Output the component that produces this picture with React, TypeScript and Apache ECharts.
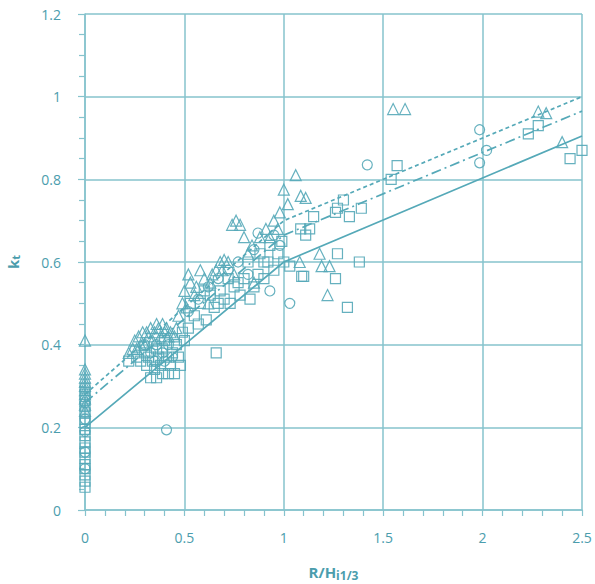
import React, { useEffect, useRef } from "react";
import * as echarts from "echarts";

// Tick labels
const xTicks = [0, 0.5, 1, 1.5, 2, 2.5];
const yTicks = [0, 0.2, 0.4, 0.6, 0.8, 1, 1.2];

// Triangles [R/Hi, kt]
const triangles: number[][] = [
  [0, 0.41], [0, 0.34], [0, 0.33], [0, 0.32], [0, 0.31], [0, 0.3], [0, 0.29], [0, 0.28], [0, 0.27],
  [0, 0.255], [0, 0.24],
  [0.22, 0.38], [0.25, 0.41], [0.27, 0.42], [0.29, 0.43], [0.31, 0.43], [0.33, 0.44], [0.35, 0.43],
  [0.37, 0.44], [0.39, 0.45], [0.41, 0.44], [0.43, 0.43], [0.3, 0.4], [0.34, 0.41], [0.38, 0.42],
  [0.26, 0.39], [0.45, 0.42], [0.28, 0.4], [0.32, 0.42], [0.36, 0.45], [0.4, 0.43], [0.42, 0.42],
  [0.24, 0.39], [0.46, 0.44],
  [0.47, 0.47], [0.49, 0.5], [0.5, 0.53], [0.52, 0.57], [0.53, 0.55], [0.56, 0.54], [0.58, 0.58],
  [0.6, 0.56], [0.63, 0.55], [0.66, 0.58], [0.68, 0.6], [0.7, 0.605], [0.72, 0.6], [0.74, 0.69],
  [0.76, 0.7], [0.78, 0.69], [0.8, 0.66], [0.84, 0.64], [0.88, 0.66], [0.91, 0.68], [0.95, 0.7],
  [0.98, 0.72], [1.0, 0.775], [1.06, 0.81], [1.085, 0.76], [1.11, 0.755], [1.02, 0.74], [0.85, 0.55],
  [0.75, 0.57], [0.62, 0.5], [0.51, 0.49], [0.55, 0.52], [0.64, 0.57], [0.69, 0.58], [0.82, 0.62],
  [0.93, 0.66], [0.97, 0.68],
  [1.18, 0.62], [1.19, 0.59], [1.23, 0.59], [1.22, 0.52], [1.08, 0.6], [1.55, 0.97], [1.61, 0.97],
  [2.28, 0.964], [2.32, 0.96], [2.4, 0.89],
];

// Squares [R/Hi, kt]
const squares: number[][] = [
  [0, 0.055], [0, 0.07], [0, 0.085], [0, 0.1], [0, 0.11], [0, 0.125], [0, 0.14], [0, 0.15],
  [0, 0.165], [0, 0.18], [0, 0.195], [0, 0.21], [0, 0.22], [0, 0.235], [0, 0.25], [0, 0.265],
  [0, 0.28], [0, 0.295],
  [0.22, 0.36], [0.26, 0.37], [0.3, 0.38], [0.33, 0.32], [0.36, 0.32], [0.39, 0.33], [0.42, 0.33],
  [0.45, 0.33], [0.48, 0.35], [0.34, 0.36], [0.38, 0.35], [0.41, 0.37], [0.44, 0.38], [0.31, 0.35],
  [0.36, 0.39], [0.4, 0.41], [0.46, 0.4], [0.5, 0.41], [0.52, 0.44], [0.66, 0.38], [0.28, 0.36],
  [0.32, 0.37], [0.35, 0.34], [0.37, 0.37], [0.39, 0.39], [0.43, 0.35], [0.47, 0.37], [0.49, 0.43],
  [0.55, 0.47], [0.58, 0.5], [0.61, 0.46], [0.63, 0.52], [0.65, 0.49], [0.68, 0.53], [0.7, 0.51],
  [0.73, 0.5], [0.75, 0.54], [0.78, 0.52], [0.8, 0.56], [0.83, 0.51], [0.85, 0.54], [0.87, 0.57],
  [0.9, 0.56], [0.92, 0.6], [0.95, 0.58], [0.97, 0.62], [1.0, 0.6], [1.03, 0.59], [1.09, 0.565],
  [0.6, 0.53], [0.72, 0.56], [0.82, 0.6], [0.88, 0.62], [0.93, 0.64], [0.53, 0.5], [0.57, 0.45],
  [0.67, 0.5], [0.77, 0.55], [0.9, 0.6], [0.99, 0.65],
  [1.085, 0.68], [1.11, 0.665], [1.13, 0.68], [1.15, 0.71], [1.27, 0.73], [1.26, 0.72], [1.3, 0.75],
  [1.33, 0.71], [1.39, 0.73], [1.54, 0.8], [1.57, 0.833],
  [1.27, 0.62], [1.38, 0.6], [1.26, 0.56], [1.32, 0.49], [1.1, 0.565],
  [2.23, 0.91], [2.28, 0.93], [2.44, 0.85], [2.5, 0.87],
];

// Circles [R/Hi, kt]
const circles: number[][] = [
  [0, 0.1], [0, 0.14], [0, 0.19], [0, 0.22], [0, 0.26],
  [0.3, 0.4], [0.33, 0.38], [0.36, 0.4], [0.39, 0.38], [0.42, 0.4], [0.35, 0.36], [0.4, 0.36], [0.44, 0.37],
  [0.41, 0.194],
  [0.52, 0.48], [0.57, 0.51], [0.62, 0.54], [0.67, 0.56], [0.72, 0.58], [0.77, 0.6], [0.85, 0.63],
  [0.87, 0.67], [0.93, 0.53], [0.95, 0.665], [1.03, 0.5], [0.98, 0.64], [0.82, 0.57],
  [1.42, 0.835], [1.985, 0.92], [2.02, 0.87], [1.985, 0.84],
];

// Fitted lines
const solidLine: number[][] = [[0, 0.2], [1, 0.6], [2.5, 0.905]];
const dashDotLine: number[][] = [[0, 0.26], [1, 0.665], [2.5, 0.965]];
const dottedLine: number[][] = [[0, 0.28], [1, 0.7], [2.5, 1.0]];

const TEAL = "#55a9b8";
const GRID = "#86c3cd";
const LABEL = "#4b9dad";
const FONT = "'Open Sans', 'Noto Sans', sans-serif";

export default function App() {
  const ref = useRef<HTMLDivElement>(null);
  useEffect(() => {
    if (!ref.current) return;
    const chart = echarts.init(ref.current, undefined, { renderer: "svg" });
    const scatterBase = (data: number[][], symbol: string, size: number) => ({
      type: "scatter",
      data,
      symbol,
      symbolSize: size,
      itemStyle: { color: "rgba(0,0,0,0)", borderColor: TEAL, borderWidth: 1.2, opacity: 0.9 },
      z: 3,
    });
    const lineBase = (data: number[][], type: any) => ({
      type: "line",
      data,
      showSymbol: false,
      symbol: "none",
      lineStyle: { color: TEAL, width: 1.7, type },
      z: 4,
    });
    chart.setOption({
      animation: false,
      backgroundColor: "#ffffff",
      grid: { left: 85, right: 13, top: 14, bottom: 74, containLabel: false, outerBoundsMode: "none" },
      xAxis: {
        type: "value",
        min: xTicks[0],
        max: xTicks[xTicks.length - 1],
        interval: 0.5,
        name: "{a|R/H}{b|i1/3}",
        nameLocation: "middle",
        nameGap: 53,
        nameTextStyle: {
          rich: {
            a: { fontSize: 15, fontWeight: "bold", color: LABEL, fontFamily: FONT },
            b: { fontSize: 12, fontWeight: "bold", color: LABEL, fontFamily: FONT, padding: [6, 0, 0, 0] },
          },
        },
        axisLine: { show: true, lineStyle: { color: GRID, width: 1.5 } },
        axisTick: { show: true, length: 6, lineStyle: { color: GRID, width: 1.2 } },
        minorTick: { show: true, splitNumber: 5, length: 6, lineStyle: { color: GRID, width: 1.2 } },
        splitLine: { show: true, lineStyle: { color: GRID, width: 1.5 } },
        axisLabel: { color: LABEL, fontSize: 14, fontFamily: FONT, margin: 20 },
      },
      yAxis: {
        type: "value",
        min: yTicks[0],
        max: yTicks[yTicks.length - 1],
        interval: 0.2,
        name: "{a|k}{b|t}",
        nameLocation: "middle",
        nameGap: 64,
        nameRotate: 90,
        nameTextStyle: {
          lineHeight: 16,
          rich: {
            a: { fontSize: 15, fontWeight: "bold", color: LABEL, fontFamily: FONT, lineHeight: 16 },
            b: { fontSize: 11, fontWeight: "bold", color: LABEL, fontFamily: FONT, lineHeight: 16, padding: [4, 0, 0, 0] },
          },
        },
        axisLine: { show: true, lineStyle: { color: GRID, width: 1.5 } },
        axisTick: { show: true, length: 7, lineStyle: { color: GRID, width: 1.2 } },
        minorTick: { show: true, splitNumber: 4, length: 6, lineStyle: { color: GRID, width: 1.2 } },
        splitLine: { show: true, lineStyle: { color: GRID, width: 1.5 } },
        axisLabel: { color: LABEL, fontSize: 14, fontFamily: FONT, margin: 24 },
      },
      series: [
        scatterBase(triangles, "triangle", 11),
        scatterBase(squares, "rect", 10),
        scatterBase(circles, "circle", 10),
        lineBase(solidLine, "solid"),
        lineBase(dashDotLine, [10, 4, 2, 4]),
        lineBase(dottedLine, [4, 3]),
      ],
    });
    return () => chart.dispose();
  }, []);
  return (
    <div
      ref={ref}
      style={{ position: "fixed", left: 0, top: 0, width: 595, height: 584, background: "#fff" }}
    />
  );
}
